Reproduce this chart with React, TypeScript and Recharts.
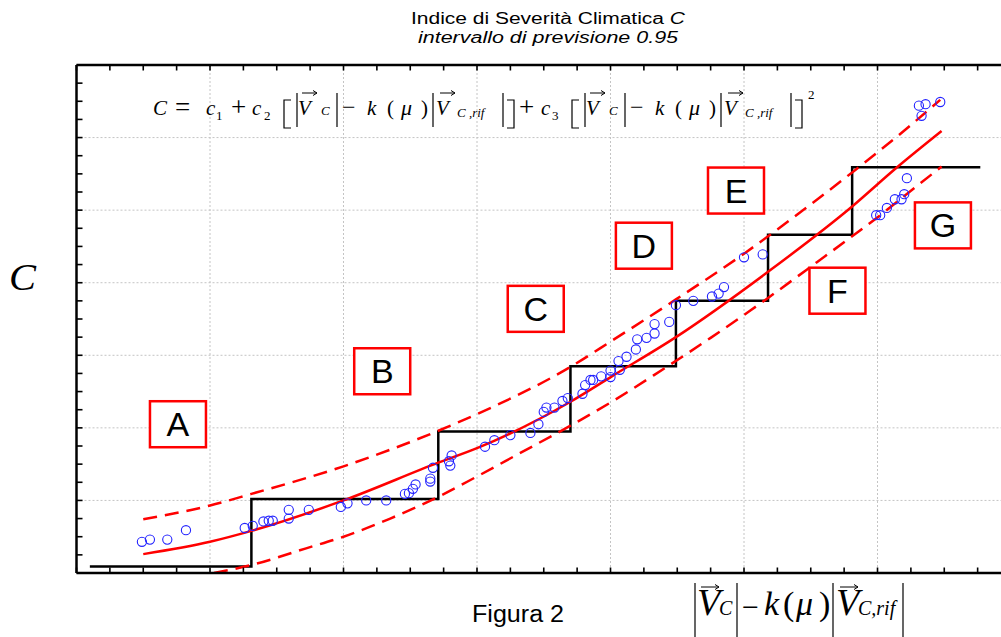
import React from 'react';
import {
  ComposedChart,
  Line,
  Scatter,
  XAxis,
  YAxis,
  CartesianGrid,
  ReferenceDot,
} from 'recharts';

// axis ticks (minor every 0.25, grid on the whole units)
const xTicks = [0, 0.25, 0.5, 0.75, 1, 1.25, 1.5, 1.75, 2, 2.25, 2.5, 2.75, 3, 3.25, 3.5, 3.75, 4, 4.25, 4.5, 4.75, 5, 5.25, 5.5, 5.75, 6, 6.25, 6.5, 6.75];
const yTicks = [0, 0.25, 0.5, 0.75, 1, 1.25, 1.5, 1.75, 2, 2.25, 2.5, 2.75, 3, 3.25, 3.5, 3.75, 4, 4.25, 4.5, 4.75, 5, 5.25, 5.5, 5.75, 6, 6.25, 6.5, 6.75, 7];
const gridX = [1, 2, 3, 4, 5, 6];
const gridY = [1, 2, 3, 4, 5, 6];

// classes A..G (step function)
const stepX = [0.1, 1.31, 2.71, 3.7, 4.49, 5.18, 5.81, 6.77];
const stepY = [0.09, 1.02, 1.95, 2.85, 3.75, 4.66, 5.59, 5.59];

// fitted curve
const fitX = [0.5, 1.0, 1.31, 2.0, 2.71, 3.0, 3.7, 4.01, 4.49, 5.18, 5.81, 6.14, 6.48];
const fitY = [0.26, 0.43, 0.58, 1.0, 1.52, 1.72, 2.36, 2.71, 3.25, 4.15, 5.05, 5.58, 6.09];

// prediction interval 0.95
const upX = [0.5, 1.0, 1.31, 2.0, 2.71, 3.0, 3.7, 4.01, 4.49, 5.0, 5.18, 5.81, 6.19, 6.47];
const upY = [0.74, 0.93, 1.09, 1.47, 1.96, 2.19, 2.84, 3.2, 3.77, 4.4, 4.64, 5.52, 6.08, 6.52];
const loX = [1.03, 1.31, 1.72, 2.0, 2.35, 2.71, 3.0, 3.32, 3.7, 4.01, 4.32, 4.75, 5.05, 5.18, 5.47, 5.81, 6.02, 6.19, 6.48];
const loY = [0.0, 0.11, 0.34, 0.5, 0.75, 1.05, 1.33, 1.65, 2.03, 2.36, 2.72, 3.24, 3.62, 3.79, 4.18, 4.64, 4.93, 5.18, 5.6];

// observed points
const obsX = [
  0.49, 0.55, 0.68, 0.82, 1.26, 1.32, 1.4, 1.44, 1.47, 1.59, 1.59, 1.74, 1.98, 2.03, 2.17, 2.32,
  2.46, 2.49, 2.52, 2.54, 2.65, 2.65, 2.67, 2.8, 2.79, 2.81, 3.06, 3.13, 3.25, 3.4, 3.46, 3.5,
  3.52, 3.58, 3.64, 3.68, 3.79, 3.81, 3.85, 3.87, 3.93, 4.0, 4.0, 4.07, 4.06, 4.12, 4.19, 4.2,
  4.27, 4.33, 4.33, 4.44, 4.49, 4.62, 4.76, 4.81, 4.85, 5.0, 5.14, 5.99, 6.02, 6.07, 6.13, 6.18,
  6.2, 6.22, 6.33, 6.31, 6.36, 6.47,
];
const obsY = [
  0.43, 0.46, 0.46, 0.59, 0.62, 0.65, 0.71, 0.72, 0.72, 0.75, 0.87, 0.87, 0.91, 0.96, 1.0, 1.0,
  1.09, 1.1, 1.16, 1.22, 1.26, 1.3, 1.45, 1.48, 1.54, 1.62, 1.74, 1.83, 1.9, 1.93, 2.05, 2.22,
  2.28, 2.28, 2.37, 2.41, 2.47, 2.59, 2.66, 2.66, 2.71, 2.79, 2.7, 2.8, 2.92, 2.98, 3.08, 3.22,
  3.24, 3.3, 3.43, 3.46, 3.69, 3.75, 3.81, 3.85, 3.94, 4.35, 4.39, 4.93, 4.93, 5.03, 5.15, 5.15,
  5.22, 5.44, 6.3, 6.44, 6.46, 6.49,
];

// class labels
const classNames = ['A', 'B', 'C', 'D', 'E', 'F', 'G'];
const classX = [0.76, 2.29, 3.44, 4.25, 4.94, 5.7, 6.49];
const classY = [2.05, 2.78, 3.64, 4.51, 5.27, 3.89, 4.79];

const zip = (xs: number[], ys: number[]) => xs.map((x, i) => ({ x, y: ys[i] }));
const stepData = zip(stepX, stepY);
const fitData = zip(fitX, fitY);
const upData = zip(upX, upY);
const loData = zip(loX, loY);
const obsData = zip(obsX, obsY);

const RED = '#ff0000';
const BLUE = '#2323ff';
const SERIF = "'Liberation Serif', 'DejaVu Serif', serif";
const SANS = "'Liberation Sans', Arial, sans-serif";

const axisLine = { stroke: '#000', strokeWidth: 2.5 };
const tickLine = { stroke: '#000', strokeWidth: 1.6 };
const blank = () => '';

const ClassBox = (props: any) => {
  const { cx, cy, label } = props;
  return (
    <g>
      <rect x={cx - 28} y={cy - 23} width={56} height={46} fill="#fff" stroke={RED} strokeWidth={2.5} />
      <text x={cx} y={cy + 12} textAnchor="middle" fontFamily={SANS} fontSize={34} fill="#000">
        {label}
      </text>
    </g>
  );
};

const Circle = (props: any) => (
  <circle cx={props.cx} cy={props.cy} r={4.6} fill="none" stroke={BLUE} strokeWidth={1.1} />
);

const Arrow = ({ x1, x2, y }: { x1: number; x2: number; y: number }) => (
  <g stroke="#000" strokeWidth={1} fill="none">
    <line x1={x1} x2={x2} y1={y} y2={y} />
    <path d={`M${x2 - 4},${y - 2.5} L${x2},${y} L${x2 - 4},${y + 2.5}`} />
  </g>
);

const Bar = ({ x, y1, y2 }: { x: number; y1: number; y2: number }) => (
  <line x1={x} x2={x} y1={y1} y2={y2} stroke="#000" strokeWidth={1.2} />
);

const Bracket = ({ x, y1, y2, open }: { x: number; y1: number; y2: number; open: boolean }) => {
  const w = open ? 7 : -7;
  return (
    <path
      d={`M${x + w},${y1} L${x},${y1} L${x},${y2} L${x + w},${y2}`}
      fill="none"
      stroke="#000"
      strokeWidth={1.2}
    />
  );
};

// one half of the bracketed term, starting at x0
const Term = ({ x0 }: { x0: number }) => {
  const t = (s: string, dx: number, size = 21, italic = true, dy = 0) => (
    <text x={x0 + dx} y={115 + dy} fontSize={size} fontStyle={italic ? 'italic' : 'normal'}>
      {s}
    </text>
  );
  return (
    <g>
      <Bar x={x0} y1={93} y2={127} />
      {t('V', 1)}
      <Arrow x1={x0 + 5} x2={x0 + 20} y={93} />
      {t('C', 24, 13)}
      <Bar x={x0 + 40} y1={93} y2={127} />
      {t('\u2212', 45, 24, false)}
      {t('k', 70)}
      {t('(', 90, 21, false)}
      {t('\u03bc', 104, 22)}
      {t(')', 124, 21, false)}
      <Bar x={x0 + 136} y1={93} y2={127} />
      {t('V', 139)}
      <Arrow x1={x0 + 143} x2={x0 + 158} y={93} />
      {t('C ,rif', 160, 13, true, 2)}
      <Bar x={x0 + 206} y1={93} y2={127} />
    </g>
  );
};

const Overlay = () => (
  <svg
    width={1001}
    height={637}
    style={{ position: 'absolute', left: 0, top: 0, pointerEvents: 'none' }}
  >
    <text
      x={411}
      y={24}
      textLength={274}
      lengthAdjust="spacingAndGlyphs"
      fontFamily={SANS}
      fontSize={16}
      fill="#000"
    >
      Indice di Severità Climatica <tspan fontStyle="italic">C</tspan>
    </text>
    <text
      x={418}
      y={43}
      textLength={260}
      lengthAdjust="spacingAndGlyphs"
      fontFamily={SANS}
      fontSize={16}
      fontStyle="italic"
      fill="#000"
    >
      intervallo di previsione 0.95
    </text>

    {/* model formula */}
    <g fontFamily={SERIF} fill="#000">
      <text x={153} y={115} fontSize={21} fontStyle="italic">C</text>
      <text x={175} y={116} fontSize={27}>=</text>
      <text x={206} y={115} fontSize={21} fontStyle="italic">c</text>
      <text x={216} y={120} fontSize={13}>1</text>
      <text x={231} y={116} fontSize={27}>+</text>
      <text x={252} y={115} fontSize={21} fontStyle="italic">c</text>
      <text x={264} y={120} fontSize={13}>2</text>
      <Bracket x={284} y1={100} y2={128} open />
      <Term x0={297} />
      <Bracket x={514} y1={100} y2={128} open={false} />
      <text x={519} y={116} fontSize={27}>+</text>
      <text x={541} y={115} fontSize={21} fontStyle="italic">c</text>
      <text x={552} y={120} fontSize={13}>3</text>
      <Bracket x={572} y1={100} y2={128} open />
      <Term x0={585} />
      <Bracket x={802} y1={100} y2={128} open={false} />
      <text x={808} y={99} fontSize={13}>2</text>
    </g>

    <text
      x={9}
      y={290}
      textLength={27}
      lengthAdjust="spacingAndGlyphs"
      fontFamily={SERIF}
      fontSize={38}
      fontStyle="italic"
      fill="#000"
    >
      C
    </text>

    <text x={472} y={622} textLength={92} lengthAdjust="spacingAndGlyphs" fontFamily={SANS} fontSize={23} fill="#000">
      Figura 2
    </text>

    {/* x-axis quantity */}
    <g fontFamily={SERIF} fill="#000" fontStyle="italic">
      <Bar x={695} y1={583} y2={637} />
      <text x={697} y={615} fontSize={38}>V</text>
      <Arrow x1={701} x2={719} y={587} />
      <text x={719} y={615} fontSize={20}>C</text>
      <Bar x={737} y1={583} y2={637} />
      <text x={742} y={617} fontSize={30} fontStyle="normal">{'\u2212'}</text>
      <text x={764} y={615} fontSize={34}>k</text>
      <text x={783} y={615} fontSize={34} fontStyle="normal">(</text>
      <text x={796} y={615} fontSize={34}>{'\u03bc'}</text>
      <text x={819} y={615} fontSize={34} fontStyle="normal">)</text>
      <Bar x={833} y1={583} y2={637} />
      <text x={836} y={615} fontSize={38}>V</text>
      <Arrow x1={840} x2={858} y={587} />
      <text x={858} y={615} fontSize={20}>C,rif</text>
      <Bar x={903} y1={583} y2={637} />
    </g>
  </svg>
);

export default function App() {
  return (
    <div style={{ position: 'absolute', left: 0, top: 0, width: 1001, height: 637, background: '#fff' }}>
      <ComposedChart width={1001} height={637} margin={{ top: 65, right: 0, bottom: 64, left: 76.5 }}>
        <CartesianGrid
          stroke="#c4c4c4"
          strokeDasharray="2 2"
          verticalValues={gridX}
          horizontalValues={gridY}
        />
        <XAxis
          type="number"
          dataKey="x"
          domain={[0, 6.925]}
          ticks={xTicks}
          interval={0}
          allowDataOverflow
          mirror
          height={1}
          tickSize={5.5}
          tickFormatter={blank}
          axisLine={axisLine}
          tickLine={tickLine}
        />
        <XAxis
          xAxisId="top"
          orientation="top"
          type="number"
          dataKey="x"
          domain={[0, 6.925]}
          ticks={xTicks}
          interval={0}
          allowDataOverflow
          mirror
          height={1}
          tickSize={5.5}
          tickFormatter={blank}
          axisLine={axisLine}
          tickLine={tickLine}
        />
        <YAxis
          type="number"
          dataKey="y"
          domain={[0, 7]}
          ticks={yTicks}
          interval={0}
          allowDataOverflow
          mirror
          width={1}
          tickSize={6}
          tickFormatter={blank}
          axisLine={axisLine}
          tickLine={tickLine}
        />
        <Line
          data={stepData}
          dataKey="y"
          type="stepAfter"
          stroke="#000"
          strokeWidth={2.5}
          dot={false}
          activeDot={false}
          isAnimationActive={false}
        />
        <Line
          data={upData}
          dataKey="y"
          type="monotone"
          stroke={RED}
          strokeWidth={2.5}
          strokeDasharray="14 8"
          dot={false}
          activeDot={false}
          isAnimationActive={false}
        />
        <Line
          data={loData}
          dataKey="y"
          type="monotone"
          stroke={RED}
          strokeWidth={2.5}
          strokeDasharray="14 8"
          dot={false}
          activeDot={false}
          isAnimationActive={false}
        />
        <Line
          data={fitData}
          dataKey="y"
          type="monotone"
          stroke={RED}
          strokeWidth={2.5}
          dot={false}
          activeDot={false}
          isAnimationActive={false}
        />
        <Scatter data={obsData} dataKey="y" shape={<Circle />} isAnimationActive={false} />
        {classNames.map((name, i) => (
          <ReferenceDot
            key={name}
            x={classX[i]}
            y={classY[i]}
            r={1}
            shape={(p: any) => <ClassBox {...p} label={name} />}
          />
        ))}
      </ComposedChart>
      <Overlay />
    </div>
  );
}
